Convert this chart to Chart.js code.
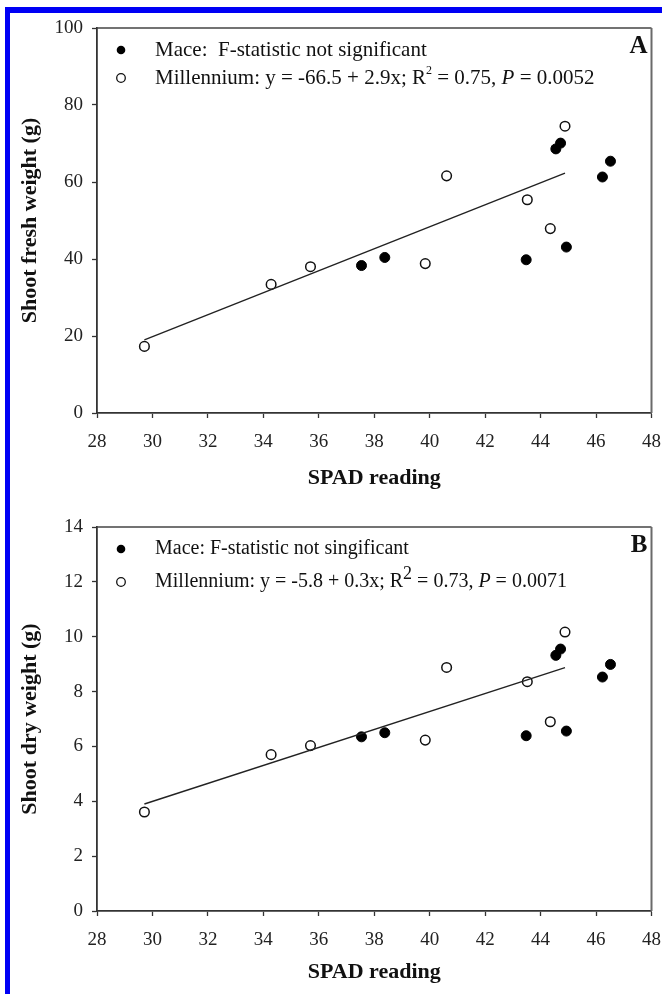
<!DOCTYPE html>
<html>
<head>
<meta charset="utf-8">
<title>Shoot weight vs SPAD reading</title>
<script src="https://cdn.jsdelivr.net/npm/chart.js@4.4.1/dist/chart.umd.min.js"></script>
<style>
    html, body { margin: 0; padding: 0; background: #fff; }
    #page { position: relative; width: 662px; height: 994px; overflow: hidden; background: #fff; }
    #frame {
        position: absolute; left: 5px; top: 7px; right: 0; bottom: 0;
        border-left: 5px solid #0000f5; border-top: 6px solid #0000f5;
    }
    .panel { position: absolute; left: 0; width: 674px; height: 497px; }
</style>
</head>
<body>
<div id="page">
    <div id="frame"></div>
    <div class="panel" style="top:0"><canvas id="chartA" width="674" height="497"></canvas></div>
    <div class="panel" style="top:497px"><canvas id="chartB" width="674" height="497"></canvas></div>
</div>
<script>
// SPAD readings (x) for each cultivar
var spadMace = [37.54, 38.38, 43.48, 44.55, 44.72, 44.93, 46.23, 46.52];
var spadMill = [29.71, 34.28, 35.70, 39.84, 40.61, 43.52, 44.35, 44.88];

// Panel A: shoot fresh weight (g)
var freshMace = [38.3, 40.4, 39.8, 68.6, 70.1, 43.1, 61.3, 65.4];
var freshMill = [17.3, 33.4, 38.0, 38.8, 61.6, 55.4, 47.9, 74.5];

// Panel B: shoot dry weight (g)
var dryMace = [6.35, 6.50, 6.39, 9.32, 9.55, 6.56, 8.53, 8.99];
var dryMill = [3.61, 5.70, 6.03, 6.23, 8.88, 8.36, 6.90, 10.17];

// Millennium regression line end points
var fitX = [29.71, 44.88];
var fitFresh = [19.0, 62.3];
var fitDry = [3.90, 8.87];

var SERIF = "'Liberation Serif', 'Times New Roman', serif";

function toPoints(xs, ys) {
    return xs.map(function (x, i) { return { x: x, y: ys[i] }; });
}

/**
 * Draws the top/right frame lines, the in-plot legend and the panel letter.
 */
var panelDecor = {
    id: "panelDecor",
    afterDraw: function (chart, args, opts) {
        var ctx = chart.ctx, a = chart.chartArea;
        ctx.save();
        ctx.strokeStyle = "#444";
        ctx.lineWidth = 1.5;
        ctx.beginPath();
        ctx.moveTo(a.left, a.top);
        ctx.lineTo(a.right, a.top);
        ctx.stroke();
        ctx.strokeStyle = "#6a6a6a";
        ctx.lineWidth = 2;
        ctx.beginPath();
        ctx.moveTo(a.right, a.top);
        ctx.lineTo(a.right, a.bottom);
        ctx.stroke();

        // legend rows
        opts.rows.forEach(function (row) {
            var y = a.top + row.dy;
            ctx.beginPath();
            ctx.arc(121, y, 4.3, 0, Math.PI * 2);
            if (row.filled) {
                ctx.fillStyle = "#000";
                ctx.fill();
            } else {
                ctx.fillStyle = "#fff";
                ctx.fill();
                ctx.strokeStyle = "#111";
                ctx.lineWidth = 1.3;
                ctx.stroke();
            }
            var x = 155;
            ctx.fillStyle = "#111";
            ctx.textBaseline = "middle";
            ctx.textAlign = "left";
            row.parts.forEach(function (p) {
                ctx.font = (p.style || "") + " " + (p.size || opts.fontSize) + "px " + SERIF;
                ctx.fillText(p.t, x, y + (p.rise || 0));
                x += ctx.measureText(p.t).width;
            });
        });

        // panel letter
        ctx.font = "bold 25px " + SERIF;
        ctx.textAlign = "right";
        ctx.textBaseline = "middle";
        ctx.fillStyle = "#111";
        ctx.fillText(opts.letter, a.right - 4, a.top + 19);
        ctx.restore();
    }
};

function makePanel(canvasId, maceY, millY, fitY, yMax, yStep, yTitle, decor, padTop, xAxisH, xTitlePad) {
    return new Chart(document.getElementById(canvasId), {
        type: "scatter",
        data: {
            datasets: [
                {
                    label: "Regression",
                    type: "line",
                    data: toPoints(fitX, fitY),
                    borderColor: "#222",
                    borderWidth: 1.4,
                    pointRadius: 0,
                    fill: false
                },
                {
                    label: "Mace",
                    data: toPoints(spadMace, maceY),
                    pointRadius: 5,
                    pointBackgroundColor: "#000",
                    pointBorderColor: "#000",
                    pointBorderWidth: 1
                },
                {
                    label: "Millennium",
                    data: toPoints(spadMill, millY),
                    pointRadius: 4.8,
                    pointBackgroundColor: "#fff",
                    pointBorderColor: "#111",
                    pointBorderWidth: 1.5
                }
            ]
        },
        options: {
            responsive: false,
            animation: false,
            devicePixelRatio: 1,
            layout: { padding: { top: padTop, right: 11, bottom: 0, left: 0 } },
            plugins: {
                legend: { display: false },
                tooltip: { enabled: false },
                panelDecor: decor
            },
            scales: {
                x: {
                    type: "linear",
                    min: 28, max: 48,
                    afterFit: function (s) { s.height = xAxisH; },
                    ticks: { stepSize: 2, color: "#222", padding: 13, font: { family: SERIF, size: 19 } },
                    grid: { drawOnChartArea: false, tickLength: 5, tickColor: "#333", tickWidth: 1.3 },
                    border: { color: "#333", width: 1.8 },
                    title: {
                        display: true, text: "SPAD reading", color: "#111",
                        font: { family: SERIF, size: 22, weight: "bold" },
                        padding: { top: 0, bottom: xTitlePad }
                    }
                },
                y: {
                    min: 0, max: yMax,
                    afterFit: function (s) { s.width = 97; },
                    ticks: { stepSize: yStep, color: "#222", padding: 9, font: { family: SERIF, size: 19 } },
                    grid: { drawOnChartArea: false, tickLength: 5, tickColor: "#333", tickWidth: 1.3 },
                    border: { color: "#333", width: 1.8 },
                    title: {
                        display: true, text: yTitle, color: "#111",
                        font: { family: SERIF, size: 22, weight: "bold" },
                        padding: { top: 17, bottom: 0 }
                    }
                }
            }
        },
        plugins: [panelDecor]
    });
}

makePanel("chartA", freshMace, freshMill, fitFresh, 100, 20, "Shoot fresh weight (g)", {
    letter: "A",
    fontSize: 21,
    rows: [
        { dy: 22, filled: true, parts: [{ t: "Mace:  F-statistic not significant" }] },
        { dy: 50, filled: false, parts: [
            { t: "Millennium: y = -66.5 + 2.9x; R" },
            { t: "2", size: 12, rise: -7 },
            { t: " = 0.75, " },
            { t: "P", style: "italic" },
            { t: " = 0.0052" }
        ] }
    ]
}, 28, 84, 5);

makePanel("chartB", dryMace, dryMill, fitDry, 14, 2, "Shoot dry weight (g)", {
    letter: "B",
    fontSize: 20,
    rows: [
        { dy: 22, filled: true, parts: [{ t: "Mace: F-statistic not singificant" }] },
        { dy: 55, filled: false, parts: [
            { t: "Millennium: y = -5.8 + 0.3x; R" },
            { t: "2", size: 18, rise: -8 },
            { t: " = 0.73, " },
            { t: "P", style: "italic" },
            { t: " = 0.0071" }
        ] }
    ]
}, 30, 83, 8);
</script>
</body>
</html>
